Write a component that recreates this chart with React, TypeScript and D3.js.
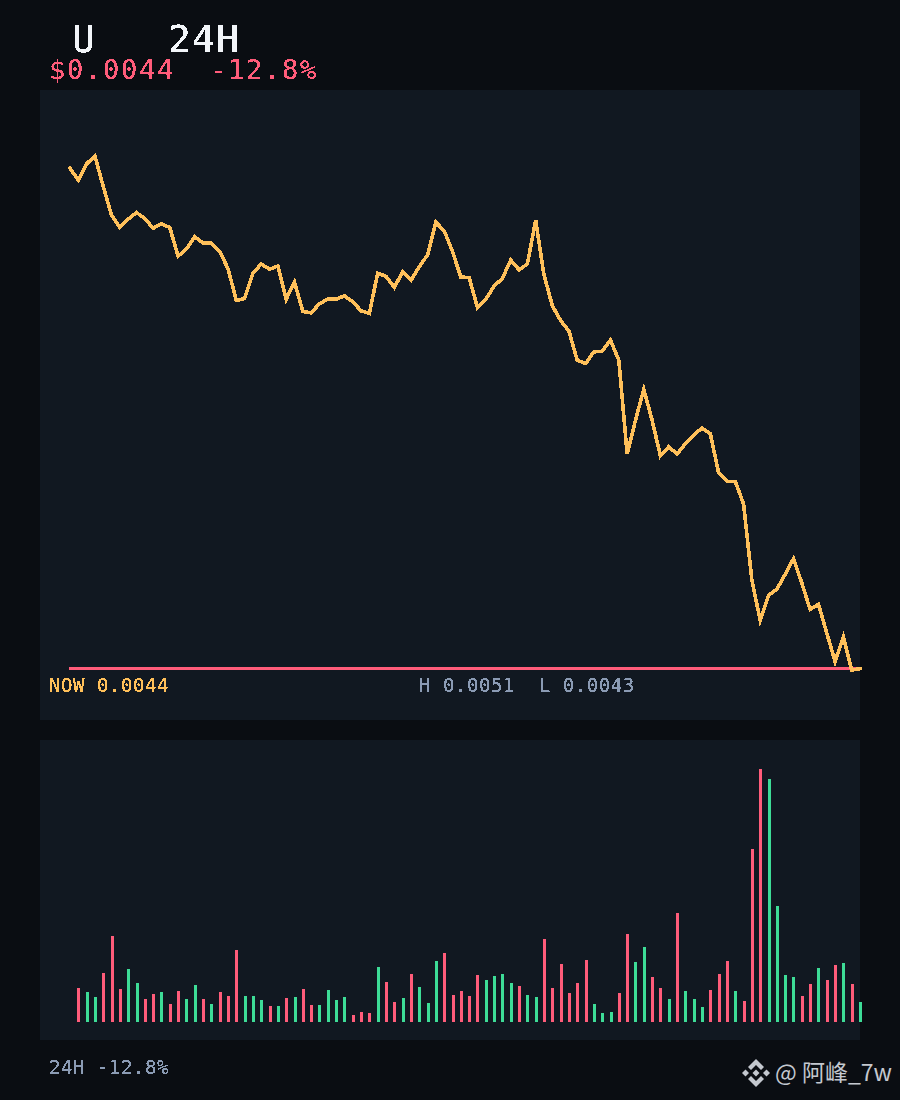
import * as d3 from "d3";

const WIDTH = 900;
const HEIGHT = 1100;

// price in millionths of a dollar
const prices = [
	5121, 5103, 5128, 5140, 5093, 5049, 5030, 5043, 5053, 5044, 5029, 5036, 5030, 4986, 4997, 5016,
	5006, 5006, 4993, 4967, 4918, 4921, 4960, 4974, 4966, 4971, 4920, 4946, 4901, 4899, 4913, 4920,
	4920, 4925, 4916, 4902, 4898, 4960, 4955, 4938, 4962, 4949, 4970, 4988, 5038, 5025, 4993, 4954,
	4953, 4907, 4920, 4940, 4952, 4980, 4965, 4974, 5041, 4957, 4910, 4887, 4871, 4826, 4821, 4839,
	4840, 4857, 4826, 4682, 4734, 4781, 4734, 4679, 4693, 4682, 4698, 4711, 4722, 4713, 4653, 4640,
	4640, 4605, 4488, 4426, 4465, 4474, 4497, 4521, 4484, 4443, 4451, 4407, 4363, 4401, 4350, 4352,
];

// one bar per price step, the first price has no bar
const volumes = [
	34, 30, 25, 49, 86, 33, 53, 39, 23, 28, 30, 18, 31, 23, 37, 23, 18, 30, 26, 72, 26, 26, 22, 16,
	16, 24, 25, 33, 17, 17, 32, 22, 25, 7, 10, 9, 55, 40, 20, 24, 48, 35, 19, 61, 69, 27, 31, 26,
	47, 42, 46, 48, 39, 36, 27, 25, 83, 34, 58, 29, 39, 62, 18, 9, 10, 29, 88, 60, 75, 45, 34, 23,
	109, 31, 23, 15, 32, 48, 61, 31, 21, 173, 253, 243, 116, 47, 45, 26, 38, 54, 42, 57, 59, 38, 20,
];

const titleLeft = "U";
const titleRight = "24H";
const priceLabel = "$0.0044";
const changeLabel = "-12.8%";
const nowLabel = "NOW 0.0044";
const rangeLabel = "H 0.0051  L 0.0043";
const footerLabel = "24H -12.8%";
const watermark = "@ 阿峰_7w";

const BG = "#0a0d12";
const PANEL = "#111821";
const RED = "#ff5c7a";
const GREEN = "#3ddc97";
const YELLOW = "#ffc05a";
const GREY = "#8b9bb4";
const WHITE = "#f2f5f9";
const MONO = "'DejaVu Sans Mono', monospace";

const x = d3.scaleLinear().domain([0, prices.length - 1]).range([70, 860]);
const y = d3.scaleLinear().domain([4350, 5140]).range([670, 156]);
const volumeY = d3.scaleLinear().domain([0, 253]).range([1022, 769]);

const linePath = d3
	.line<number>()
	.x((_, i) => x(i))
	.y((d) => y(d))(prices);

const last = prices[prices.length - 1];

export default function App() {
	return (
		<svg
			width={WIDTH}
			height={HEIGHT}
			style={{ position: "absolute", left: 0, top: 0, display: "block" }}
		>
			<defs>
				{/* the original lettering has hard pixel edges */}
				<filter
					id="hard"
					filterUnits="userSpaceOnUse"
					x={0}
					y={0}
					width={WIDTH}
					height={HEIGHT}
					colorInterpolationFilters="sRGB"
				>
					<feComponentTransfer>
						<feFuncA type="discrete" tableValues="0 1 1" />
					</feComponentTransfer>
				</filter>
			</defs>
			<rect width={WIDTH} height={HEIGHT} fill={BG} />
			<rect x={40} y={90} width={820} height={630} fill={PANEL} />
			<rect x={40} y={740} width={820} height={300} fill={PANEL} />

			<g fontFamily={MONO} filter="url(#hard)">
				<g fontSize={38} letterSpacing={1.1} fill={WHITE}>
					<text x={72} y={52}>
						{titleLeft}
					</text>
					<text x={168} y={52}>
						{titleRight}
					</text>
				</g>
				<g fontSize={27} letterSpacing={1.75} fill={RED}>
					<text x={49} y={79}>
						{priceLabel}
					</text>
					<text x={210} y={79}>
						{changeLabel}
					</text>
				</g>
				<g fontSize={19} letterSpacing={0.55}>
					<text x={49} y={692} fill={YELLOW}>
						{nowLabel}
					</text>
					<text x={419} y={692} fill={GREY} style={{ whiteSpace: "pre" }}>
						{rangeLabel}
					</text>
					<text x={49} y={1074} fill={GREY}>
						{footerLabel}
					</text>
				</g>
			</g>

			<line
				x1={x(0) - 1}
				x2={x(prices.length - 1)}
				y1={y(last)}
				y2={y(last)}
				stroke={RED}
				strokeWidth={3}
				shapeRendering="crispEdges"
			/>
			<path
				d={linePath ?? ""}
				fill="none"
				stroke={YELLOW}
				strokeWidth={3.6}
				strokeLinecap="square"
				strokeLinejoin="miter"
				shapeRendering="crispEdges"
			/>

			{volumes.map((v, i) => (
				<rect
					key={i}
					x={Math.round(x(i + 1)) - 1}
					y={volumeY(v)}
					width={3}
					height={volumeY(0) - volumeY(v)}
					fill={prices[i + 1] >= prices[i] ? GREEN : RED}
					shapeRendering="crispEdges"
				/>
			))}

			{/* watermark */}
			<g transform="translate(756,1073)" fill="#c4c8cf">
				<path d="M0,-14 L8,-6 L5,-3 L0,-8 L-5,-3 L-8,-6 Z" />
				<path d="M0,14 L8,6 L5,3 L0,8 L-5,3 L-8,6 Z" />
				<path d="M-14,0 L-10.5,-3.5 L-7,0 L-10.5,3.5 Z" />
				<path d="M14,0 L10.5,-3.5 L7,0 L10.5,3.5 Z" />
				<path d="M0,-3.5 L3.5,0 L0,3.5 L-3.5,0 Z" />
			</g>
			<text
				x={775}
				y={1081}
				fontSize={23}
				fill="#c4c8cf"
				fontFamily="'Noto Sans CJK SC', 'Noto Sans', sans-serif"
			>
				{watermark}
			</text>
		</svg>
	);
}
